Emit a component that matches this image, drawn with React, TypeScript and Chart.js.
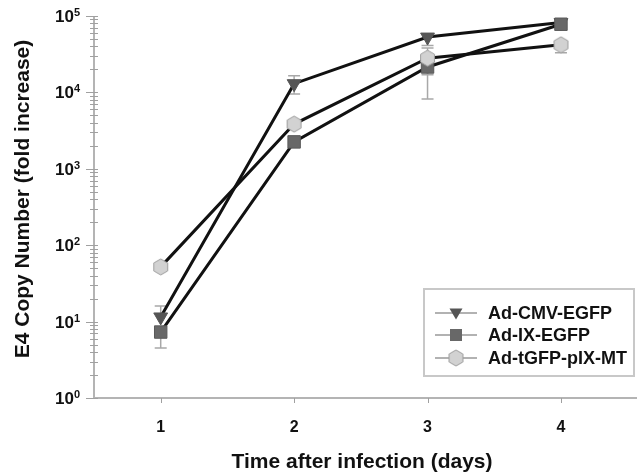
import React, { useEffect, useRef } from "react";
import { Chart, registerables } from "chart.js";

Chart.register(...registerables);

const days = [1, 2, 3, 4];
const xTickLabels = ["1", "2", "3", "4"];
const yTickExponents = [0, 1, 2, 3, 4, 5];
const seriesNames = ["Ad-CMV-EGFP", "Ad-IX-EGFP", "Ad-tGFP-pIX-MT"];

const cmvValues = [11.5, 13000, 53000, 82000];
const cmvLow = [null, 9500, 41000, null];
const cmvHigh = [16, 16500, null, null];

const ixValues = [7.3, 2250, 21500, 78000];
const ixLow = [4.5, null, 8200, null];
const ixHigh = [null, null, null, null];

const mtValues = [52, 3850, 28000, 42000];
const mtLow = [null, null, 17000, 33000];
const mtHigh = [null, null, 38000, null];

const yTitle = "E4 Copy Number (fold increase)";
const xTitle = "Time after infection (days)";

const FONT = "'Liberation Sans', Arial, sans-serif";

function makeHexagon(): HTMLCanvasElement {
  const c = document.createElement("canvas");
  c.width = 17;
  c.height = 18;
  const ctx = c.getContext("2d")!;
  const cx = 8.5, cy = 9, r = 8;
  ctx.beginPath();
  for (let k = 0; k < 6; k++) {
    const a = (-90 + 60 * k) * Math.PI / 180;
    const px = cx + r * Math.cos(a);
    const py = cy + r * Math.sin(a);
    if (k === 0) ctx.moveTo(px, py); else ctx.lineTo(px, py);
  }
  ctx.closePath();
  ctx.fillStyle = "#d2d2d2";
  ctx.fill();
  ctx.strokeStyle = "#9c9c9c";
  ctx.lineWidth = 1;
  ctx.stroke();
  return c;
}

export default function App() {
  const ref = useRef<HTMLCanvasElement | null>(null);

  useEffect(() => {
    document.body.style.margin = "0";
    const hex = makeHexagon();
    const toPts = (vals: number[]) => days.map((d, i) => ({ x: d, y: vals[i] }));

    const errorSets = [
      { low: cmvLow, high: cmvHigh, vals: cmvValues },
      { low: ixLow, high: ixHigh, vals: ixValues },
      { low: mtLow, high: mtHigh, vals: mtValues },
    ];

    const drawPlugin = {
      id: "custom",
      beforeDatasetsDraw(chart: any) {
        const ctx = chart.ctx;
        const xs = chart.scales.x, ys = chart.scales.y;
        ctx.save();
        ctx.strokeStyle = "#a8a8a8";
        ctx.lineWidth = 1.5;
        errorSets.forEach((s) => {
          days.forEach((d, i) => {
            const x = xs.getPixelForValue(d);
            const yv = ys.getPixelForValue(s.vals[i]);
            const ends = [s.low[i], s.high[i]];
            ends.forEach((e) => {
              if (e == null) return;
              const ye = ys.getPixelForValue(e);
              ctx.beginPath();
              ctx.moveTo(x, yv);
              ctx.lineTo(x, ye);
              ctx.moveTo(x - 6, ye);
              ctx.lineTo(x + 6, ye);
              ctx.stroke();
            });
          });
        });
        ctx.restore();
      },
      afterDraw(chart: any) {
        const ctx = chart.ctx;
        const xs = chart.scales.x, ys = chart.scales.y;
        const area = chart.chartArea;
        ctx.save();
        // axes
        ctx.strokeStyle = "#b4b4b4";
        ctx.lineWidth = 2;
        ctx.beginPath();
        ctx.moveTo(area.left, area.top);
        ctx.lineTo(area.left, area.bottom);
        ctx.lineTo(area.right, area.bottom);
        ctx.stroke();
        // y ticks
        ctx.lineWidth = 1;
        ctx.strokeStyle = "#a0a0a0";
        for (const e of yTickExponents) {
          const y = Math.round(ys.getPixelForValue(Math.pow(10, e))) + 0.5;
          ctx.beginPath();
          ctx.moveTo(area.left - 8, y);
          ctx.lineTo(area.left + 4, y);
          ctx.stroke();
          if (e < 5) {
            for (let m = 2; m <= 9; m++) {
              const ym = Math.round(ys.getPixelForValue(m * Math.pow(10, e))) + 0.5;
              ctx.beginPath();
              ctx.moveTo(area.left - 4, ym);
              ctx.lineTo(area.left + 4, ym);
              ctx.stroke();
            }
          }
        }
        // x ticks
        days.forEach((d) => {
          const x = Math.round(xs.getPixelForValue(d)) + 0.5;
          ctx.beginPath();
          ctx.moveTo(x, area.bottom);
          ctx.lineTo(x, area.bottom + 5);
          ctx.stroke();
        });
        // y tick labels
        ctx.fillStyle = "#111";
        ctx.textBaseline = "alphabetic";
        for (const e of yTickExponents) {
          const y = ys.getPixelForValue(Math.pow(10, e));
          ctx.font = `bold 11px ${FONT}`;
          const ew = ctx.measureText(String(e)).width;
          ctx.textAlign = "left";
          ctx.fillText(String(e), 80 - ew, y);
          ctx.font = `bold 17px ${FONT}`;
          ctx.textAlign = "right";
          ctx.fillText("10", 80 - ew, y + 6);
        }
        // x tick labels
        ctx.font = `bold 16px ${FONT}`;
        ctx.textAlign = "center";
        days.forEach((d, i) => {
          ctx.fillText(xTickLabels[i], xs.getPixelForValue(d), 432);
        });
        // x title
        ctx.font = `bold 21px ${FONT}`;
        ctx.fillText(xTitle, 362, 468);
        // y title
        ctx.save();
        ctx.translate(29, 199);
        ctx.rotate(-Math.PI / 2);
        ctx.fillText(yTitle, 0, 0);
        ctx.restore();
        // legend
        ctx.fillStyle = "#fff";
        ctx.fillRect(424, 289, 210, 87);
        ctx.strokeStyle = "#c8c8c8";
        ctx.lineWidth = 2;
        ctx.strokeRect(424, 289, 210, 87);
        const rows = [313, 335, 358];
        rows.forEach((y, i) => {
          ctx.strokeStyle = "#666";
          ctx.lineWidth = 1.2;
          ctx.beginPath();
          ctx.moveTo(435, y);
          ctx.lineTo(477, y);
          ctx.stroke();
          const cx = 456;
          if (i === 0) {
            ctx.beginPath();
            ctx.moveTo(cx - 6.5, y - 4.5);
            ctx.lineTo(cx + 6.5, y - 4.5);
            ctx.lineTo(cx, y + 6.5);
            ctx.closePath();
            ctx.fillStyle = "#555";
            ctx.fill();
          } else if (i === 1) {
            ctx.fillStyle = "#686868";
            ctx.fillRect(cx - 6, y - 6, 12, 12);
          } else {
            ctx.drawImage(hex, cx - hex.width / 2, y - hex.height / 2);
          }
          ctx.fillStyle = "#111";
          ctx.font = `bold 18px ${FONT}`;
          ctx.textAlign = "left";
          ctx.fillText(seriesNames[i], 488, y + 6);
        });
        ctx.restore();
      },
    };

    const chart = new Chart(ref.current!, {
      type: "line",
      data: {
        datasets: [
          {
            label: seriesNames[2],
            data: toPts(mtValues),
            borderColor: "#111",
            borderWidth: 3,
            pointStyle: hex as any,
            pointRadius: 8,
            order: 0,
          },
          {
            label: seriesNames[1],
            data: toPts(ixValues),
            borderColor: "#111",
            borderWidth: 3,
            pointStyle: "rect",
            pointRadius: 8.8,
            pointBackgroundColor: "#686868",
            pointBorderColor: "#5a5a5a",
            pointBorderWidth: 1,
            order: 1,
          },
          {
            label: seriesNames[0],
            data: toPts(cmvValues),
            borderColor: "#111",
            borderWidth: 3,
            pointStyle: "triangle",
            rotation: 180,
            pointRadius: 8,
            pointBackgroundColor: "#555",
            pointBorderColor: "#555",
            pointBorderWidth: 1,
            order: 2,
          } as any,
        ],
      },
      options: {
        animation: false,
        responsive: false,
        devicePixelRatio: 1,
        layout: { autoPadding: false, padding: { left: 94, top: 16, bottom: 76, right: 0 } },
        plugins: { legend: { display: false }, tooltip: { enabled: false } },
        scales: {
          x: { type: "linear", min: 0.5, max: 4.57, display: false },
          y: { type: "logarithmic", min: 1, max: 100000, display: false },
        },
        elements: { line: { tension: 0 } },
      } as any,
      plugins: [drawPlugin],
    });
    return () => chart.destroy();
  }, []);

  return (
    <canvas
      ref={ref}
      width={637}
      height={474}
      style={{ display: "block", width: 637, height: 474 }}
    />
  );
}
